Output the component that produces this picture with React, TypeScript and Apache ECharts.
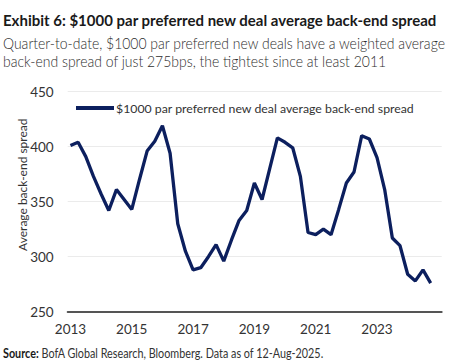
import React, { useEffect, useRef } from "react";
import * as echarts from "echarts";

const FONT = "Lato, 'Open Sans', sans-serif";

const TITLE = "Exhibit 6: $1000 par preferred new deal average back-end spread";
const SUBTITLE_1 = "Quarter-to-date, $1000 par preferred new deals have a weighted average";
const SUBTITLE_2 = "back-end spread of just 275bps, the tightest since at least 2011";
const SOURCE_BOLD = "Source:";
const SOURCE_REST = " BofA Global Research, Bloomberg. Data as of 12-Aug-2025.";
const SERIES_NAME = "$1000 par preferred new deal average back-end spread";
const Y_NAME = "Average back-end spread";

const START_YEAR = 2013;
// quarterly values from 2013 Q1 through 2024 Q4
const spread = [
  401, 404, 391, 373,
  357, 342, 361, 352,
  343, 370, 396, 405,
  419, 394, 330, 305,
  288, 290, 300, 311,
  296, 315, 333, 342,
  367, 352, 380, 408,
  404, 399, 373, 322,
  320, 325, 320, 343,
  367, 377, 410, 407,
  390, 361, 317, 310,
  284, 278, 288, 276,
];
const xTickLabels = [2013, 2015, 2017, 2019, 2021, 2023];
const yTicks = { min: 250, max: 450, interval: 50 };

function measure(text: string, font: string): number {
  const c = document.createElement("canvas");
  const ctx = c.getContext("2d");
  if (!ctx) return text.length * 7;
  ctx.font = font;
  return ctx.measureText(text).width;
}

export default function App() {
  const ref = useRef<HTMLDivElement>(null);
  useEffect(() => {
    if (!ref.current) return;
    const chart = echarts.init(ref.current, null, { renderer: "svg" });
    const data = spread.map((v, i) => [START_YEAR + i * 0.25, v]);

    const titleSize = 16;
    const subSize = 16;
    const srcSize = 12.5;
    const titleScale = 434 / measure(TITLE, `bold ${titleSize}px Lato`);
    const subScale = 443 / measure(SUBTITLE_1, `300 ${subSize}px Lato`);
    const srcW =
      measure(SOURCE_BOLD, `bold ${srcSize}px Lato`) + measure(SOURCE_REST, `normal ${srcSize}px Lato`);
    const srcScale = 321 / srcW;

    chart.setOption({
      animation: false,
      backgroundColor: "#ffffff",
      textStyle: { fontFamily: FONT },
      legend: {
        left: 76,
        top: 102,
        padding: 0,
        icon: "rect",
        itemWidth: 38,
        itemHeight: 4,
        data: [SERIES_NAME],
        textStyle: { fontFamily: FONT, fontSize: 12.3, color: "#333333", padding: [0, 0, 0, -3] },
      },
      grid: { left: 67.7, right: 33.3, top: 91.7, bottom: 48.3, containLabel: false },
      xAxis: {
        type: "value",
        min: 2012.91,
        max: 2025.11,
        axisLine: { show: true, lineStyle: { color: "#555555", width: 2 } },
        axisTick: { show: false },
        splitLine: { show: false },
        axisLabel: {
          customValues: xTickLabels,
          formatter: (v: number) => String(Math.round(v)),
          fontFamily: FONT,
          fontSize: 13.5,
          color: "#333333",
          margin: 10,
        },
      },
      yAxis: {
        type: "value",
        min: yTicks.min,
        max: yTicks.max,
        interval: yTicks.interval,
        name: Y_NAME,
        nameLocation: "middle",
        nameGap: 39.5,
        nameMoveOverlap: false,
        nameTextStyle: { fontFamily: FONT, fontSize: 12, color: "#333333", padding: [0, 0, 0, 34] },
        axisLine: { show: false },
        axisTick: { show: false },
        splitLine: { show: true, lineStyle: { color: "#ebebeb", width: 1 } },
        axisLabel: { fontFamily: FONT, fontSize: 13.5, color: "#333333", margin: 14 },
      },
      series: [
        {
          name: SERIES_NAME,
          type: "line",
          data,
          symbol: "none",
          lineStyle: { color: "#0c1f5e", width: 3.3 },
          itemStyle: { color: "#0c1f5e" },
        },
      ],
      graphic: [
        {
          type: "text",
          x: 3,
          y: 20,
          scaleX: titleScale,
          style: {
            text: TITLE,
            fontFamily: FONT,
            fontWeight: "bold",
            fontSize: titleSize,
            fill: "#1a1a1a",
            verticalAlign: "middle",
          },
        },
        {
          type: "text",
          x: 3,
          y: 43,
          scaleX: subScale,
          style: {
            text: SUBTITLE_1,
            fontFamily: FONT,
            fontWeight: 300,
            fontSize: subSize,
            fill: "#2e2e2e",
            verticalAlign: "middle",
          },
        },
        {
          type: "text",
          x: 3,
          y: 61,
          scaleX: subScale,
          style: {
            text: SUBTITLE_2,
            fontFamily: FONT,
            fontWeight: 300,
            fontSize: subSize,
            fill: "#2e2e2e",
            verticalAlign: "middle",
          },
        },
        {
          type: "text",
          x: 3,
          y: 353,
          scaleX: srcScale,
          style: {
            text: `{b|${SOURCE_BOLD}}${SOURCE_REST}`,
            fontFamily: FONT,
            fontSize: srcSize,
            fill: "#333333",
            verticalAlign: "middle",
            rich: {
              b: { fontFamily: FONT, fontWeight: "bold", fontSize: srcSize, fill: "#1a1a1a" },
            },
          },
        },
      ],
    });
    return () => chart.dispose();
  }, []);
  return <div ref={ref} style={{ width: 475, height: 360, position: "absolute", left: 0, top: 0 }} />;
}
